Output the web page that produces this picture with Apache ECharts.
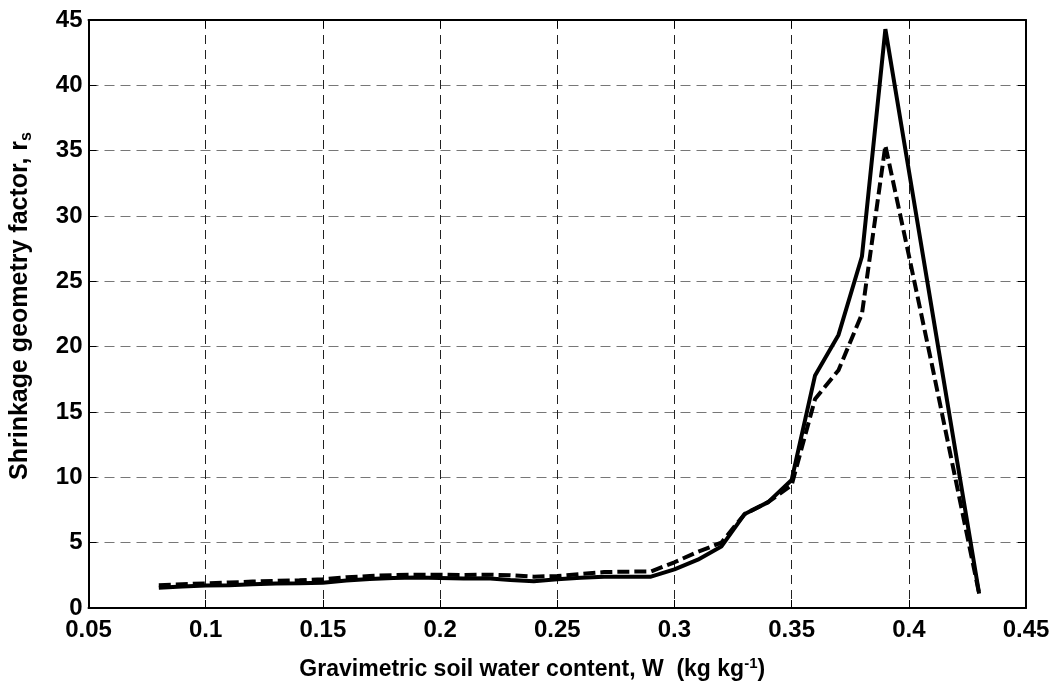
<!DOCTYPE html>
<html>
<head>
<meta charset="utf-8">
<script src="https://cdn.jsdelivr.net/npm/echarts@6/dist/echarts.min.js"></script>
<style>
  html, body { margin: 0; padding: 0; background: #fff; }
  #chart { width: 1060px; height: 688px; }
</style>
</head>
<body>
<div id="chart"></div>
<script>
// water content, kg/kg
var wc = [0.08, 0.09, 0.10, 0.11, 0.12, 0.13, 0.14, 0.15, 0.16, 0.17, 0.18, 0.19,
  0.20, 0.21, 0.22, 0.23, 0.24, 0.25, 0.26, 0.27, 0.28, 0.29, 0.30, 0.31,
  0.32, 0.33, 0.34, 0.35, 0.36, 0.37, 0.38, 0.39, 0.40, 0.41, 0.42, 0.43];
// solid curve
var rsSolid = [1.55, 1.65, 1.72, 1.75, 1.82, 1.88, 1.90, 1.94, 2.10, 2.22, 2.30, 2.33,
  2.30, 2.25, 2.28, 2.15, 2.05, 2.20, 2.32, 2.40, 2.40, 2.40, 2.95, 3.70,
  4.70, 7.20, 8.10, 9.80, 17.8, 20.9, 26.9, 44.3, 33.5, 22.7, 11.9, 1.1];
// dashed curve
var rsDashed = [1.75, 1.82, 1.88, 1.95, 2.02, 2.08, 2.12, 2.20, 2.35, 2.45, 2.52, 2.55,
  2.55, 2.52, 2.55, 2.50, 2.40, 2.45, 2.60, 2.75, 2.78, 2.80, 3.50, 4.30,
  5.00, 7.20, 8.10, 9.40, 16.0, 18.2, 22.5, 35.4, 27.0, 18.5, 9.8, 1.1];

var xMin = 0.05, xMax = 0.45, xStep = 0.05;
var yMin = 0, yMax = 45, yStep = 5;

var font = 'Liberation Sans, Arial, sans-serif';

function pairs(ys) {
  return wc.map(function (x, i) { return [x, ys[i]]; });
}

var chart = echarts.init(document.getElementById('chart'));
chart.setOption({
  animation: false,
  backgroundColor: '#fff',
  grid: { left: 88, right: 34, top: 20, bottom: 80 },
  xAxis: [{
    type: 'value',
    min: xMin, max: xMax, interval: xStep,
    position: 'bottom',
    name: 'Gravimetric soil water content, W  (kg kg{sup|-1})',
    nameLocation: 'middle',
    nameGap: 48,
    nameTextStyle: {
      color: '#000', fontFamily: font, fontWeight: 'bold', fontSize: 23,
      padding: [0, 50, 0, 0],
      rich: {
        sup: { fontSize: 15, fontWeight: 'bold', fontFamily: font, color: '#000', verticalAlign: 'top', padding: [0, 0, 12, 0] }
      }
    },
    axisLine: { onZero: false, lineStyle: { color: '#000', width: 2 } },
    axisTick: { inside: true, length: 8, lineStyle: { color: '#000', width: 1 } },
    axisLabel: {
      color: '#000', fontFamily: font, fontWeight: 'bold', fontSize: 24, margin: 10,
      formatter: function (v) { return String(+v.toFixed(2)); }
    },
    splitLine: { show: true, lineStyle: { color: '#222', type: [9, 6], width: 1 } }
  }, {
    type: 'value',
    min: xMin, max: xMax, interval: xStep,
    position: 'top',
    axisLine: { onZero: false, lineStyle: { color: '#000', width: 2 } },
    axisTick: { inside: true, length: 8, lineStyle: { color: '#000', width: 1 } },
    axisLabel: { show: false },
    splitLine: { show: false }
  }],
  yAxis: [{
    type: 'value',
    min: yMin, max: yMax, interval: yStep,
    position: 'left',
    name: 'Shrinkage geometry factor, r{sub|s}',
    nameLocation: 'middle',
    nameGap: 54,
    nameTextStyle: {
      color: '#000', fontFamily: font, fontWeight: 'bold', fontSize: 25,
      padding: [0, 0, 0, 16],
      rich: {
        sub: { fontSize: 16, fontWeight: 'bold', fontFamily: font, color: '#000', verticalAlign: 'bottom', padding: [12, 0, 0, 0] }
      }
    },
    axisLine: { onZero: false, lineStyle: { color: '#000', width: 2 } },
    axisTick: { inside: true, length: 8, lineStyle: { color: '#000', width: 1 } },
    axisLabel: { color: '#000', fontFamily: font, fontWeight: 'bold', fontSize: 24, margin: 6 },
    splitLine: { show: true, lineStyle: { color: '#777', type: [10, 6], width: 1 } }
  }, {
    type: 'value',
    min: yMin, max: yMax, interval: yStep,
    position: 'right',
    axisLine: { onZero: false, lineStyle: { color: '#000', width: 2 } },
    axisTick: { inside: true, length: 8, lineStyle: { color: '#000', width: 1 } },
    axisLabel: { show: false },
    splitLine: { show: false }
  }],
  series: [{
    name: 'solid',
    type: 'line',
    data: pairs(rsSolid),
    showSymbol: false,
    lineStyle: { color: '#000', width: 4, type: 'solid' },
    z: 3
  }, {
    name: 'dashed',
    type: 'line',
    data: pairs(rsDashed),
    showSymbol: false,
    lineStyle: { color: '#000', width: 4, type: [12, 5] },
    z: 4
  }]
});
</script>
</body>
</html>
